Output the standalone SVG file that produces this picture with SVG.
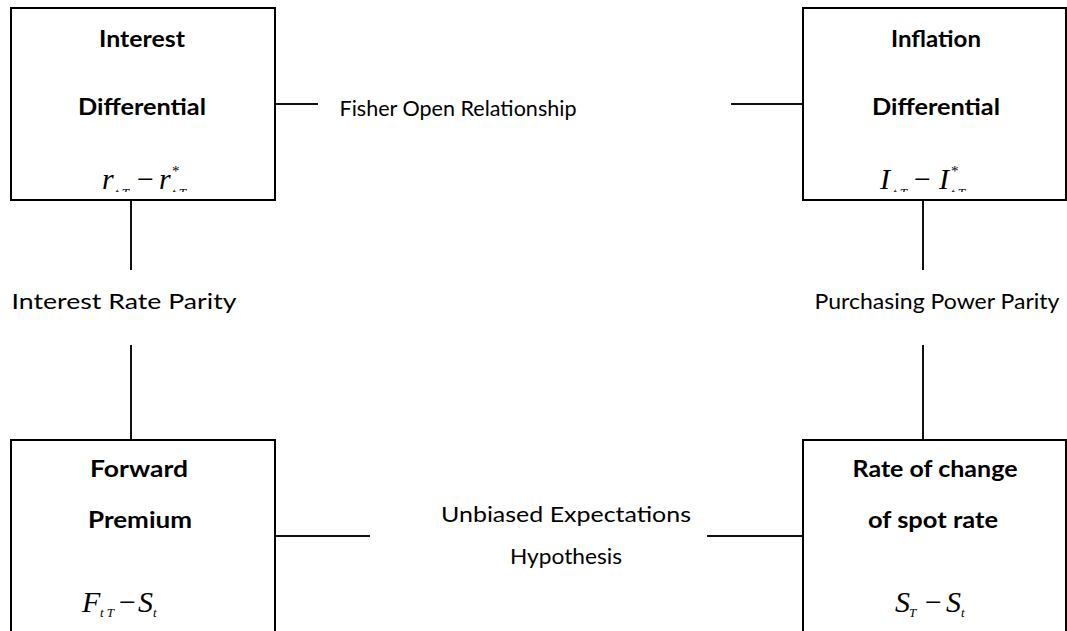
<svg xmlns="http://www.w3.org/2000/svg" width="1067" height="631" viewBox="0 0 1067 631">
<defs>
<style>
.box{fill:#fff;stroke:#000;stroke-width:2}
.ln{stroke:#111;stroke-width:2;fill:none}
.t{font-family:Lato,"Open Sans",sans-serif;font-weight:bold;font-size:22px;fill:#000;text-anchor:middle}
.l{font-family:Lato,"Open Sans",sans-serif;font-size:22px;fill:#000;text-anchor:middle}
.m{font-family:"Liberation Serif",serif;font-style:italic;font-size:30px;fill:#000}
.mn{font-family:"Liberation Serif",serif;font-size:30px;fill:#000}
.s{font-family:"Liberation Serif",serif;font-style:italic;font-size:13px;fill:#000}
.st{font-family:"Liberation Serif",serif;font-size:15px;fill:#000}
</style>
<clipPath id="clipTop"><rect x="0" y="0" width="1067" height="192"/></clipPath>
</defs>
<g id="connectors">
<line class="ln" x1="275" y1="104" x2="318" y2="104"/>
<line class="ln" x1="731" y1="104" x2="803" y2="104"/>
<line class="ln" x1="275" y1="536" x2="370" y2="536"/>
<line class="ln" x1="707" y1="536" x2="803" y2="536"/>
<line class="ln" x1="131" y1="200" x2="131" y2="270"/>
<line class="ln" x1="131" y1="345" x2="131" y2="440"/>
<line class="ln" x1="923" y1="200" x2="923" y2="270"/>
<line class="ln" x1="923" y1="345" x2="923" y2="440"/>
<text class="l" x="458" y="116" textLength="237" lengthAdjust="spacingAndGlyphs">Fisher Open Relationship</text>
<text class="l" x="124" y="309" textLength="225" lengthAdjust="spacingAndGlyphs">Interest Rate Parity</text>
<text class="l" x="937" y="309" textLength="245" lengthAdjust="spacingAndGlyphs">Purchasing Power Parity</text>
<text class="l" x="566" y="522" textLength="250" lengthAdjust="spacingAndGlyphs">Unbiased Expectations</text>
<text class="l" x="566" y="564" textLength="112" lengthAdjust="spacingAndGlyphs">Hypothesis</text>
</g>
<g id="interest-differential">
<rect class="box" x="11" y="8" width="264" height="192"/>
<text class="t" x="142" y="47" textLength="86" lengthAdjust="spacingAndGlyphs">Interest</text>
<text class="t" x="142" y="115" textLength="128" lengthAdjust="spacingAndGlyphs">Differential</text>
<g clip-path="url(#clipTop)">
<text class="m" x="102" y="189">r</text>
<text class="s" x="115" y="197">t,T</text>
<text class="mn" x="137" y="189">−</text>
<text class="m" x="159" y="189">r</text>
<text class="st" x="172" y="176">*</text>
<text class="s" x="172" y="197">t,T</text>
</g>
</g>
<g id="inflation-differential">
<rect class="box" x="803" y="8" width="263" height="192"/>
<text class="t" x="936" y="47" textLength="90" lengthAdjust="spacingAndGlyphs">Inflation</text>
<text class="t" x="936" y="115" textLength="128" lengthAdjust="spacingAndGlyphs">Differential</text>
<g clip-path="url(#clipTop)">
<text class="m" x="880" y="189">I</text>
<text class="s" x="893" y="197">t,T</text>
<text class="mn" x="914" y="189">−</text>
<text class="m" x="939" y="189">I</text>
<text class="st" x="951" y="176">*</text>
<text class="s" x="951" y="197">t,T</text>
</g>
</g>
<g id="forward-premium">
<rect class="box" x="11" y="440" width="264" height="200"/>
<text class="t" x="139" y="477" textLength="98" lengthAdjust="spacingAndGlyphs">Forward</text>
<text class="t" x="140" y="528" textLength="104" lengthAdjust="spacingAndGlyphs">Premium</text>
<text class="m" x="82" y="612">F</text>
<text class="s" x="100" y="617">t T</text>
<text class="mn" x="119" y="612">−</text>
<text class="m" x="138" y="612">S</text>
<text class="s" x="153" y="617">t</text>
</g>
<g id="rate-of-change">
<rect class="box" x="803" y="440" width="263" height="200"/>
<text class="t" x="935" y="477" textLength="165" lengthAdjust="spacingAndGlyphs">Rate of change</text>
<text class="t" x="933" y="528" textLength="130" lengthAdjust="spacingAndGlyphs">of spot rate</text>
<text class="m" x="895" y="612">S</text>
<text class="s" x="909" y="617">T</text>
<text class="mn" x="925" y="612">−</text>
<text class="m" x="946" y="612">S</text>
<text class="s" x="961" y="617">t</text>
</g>
</svg>
